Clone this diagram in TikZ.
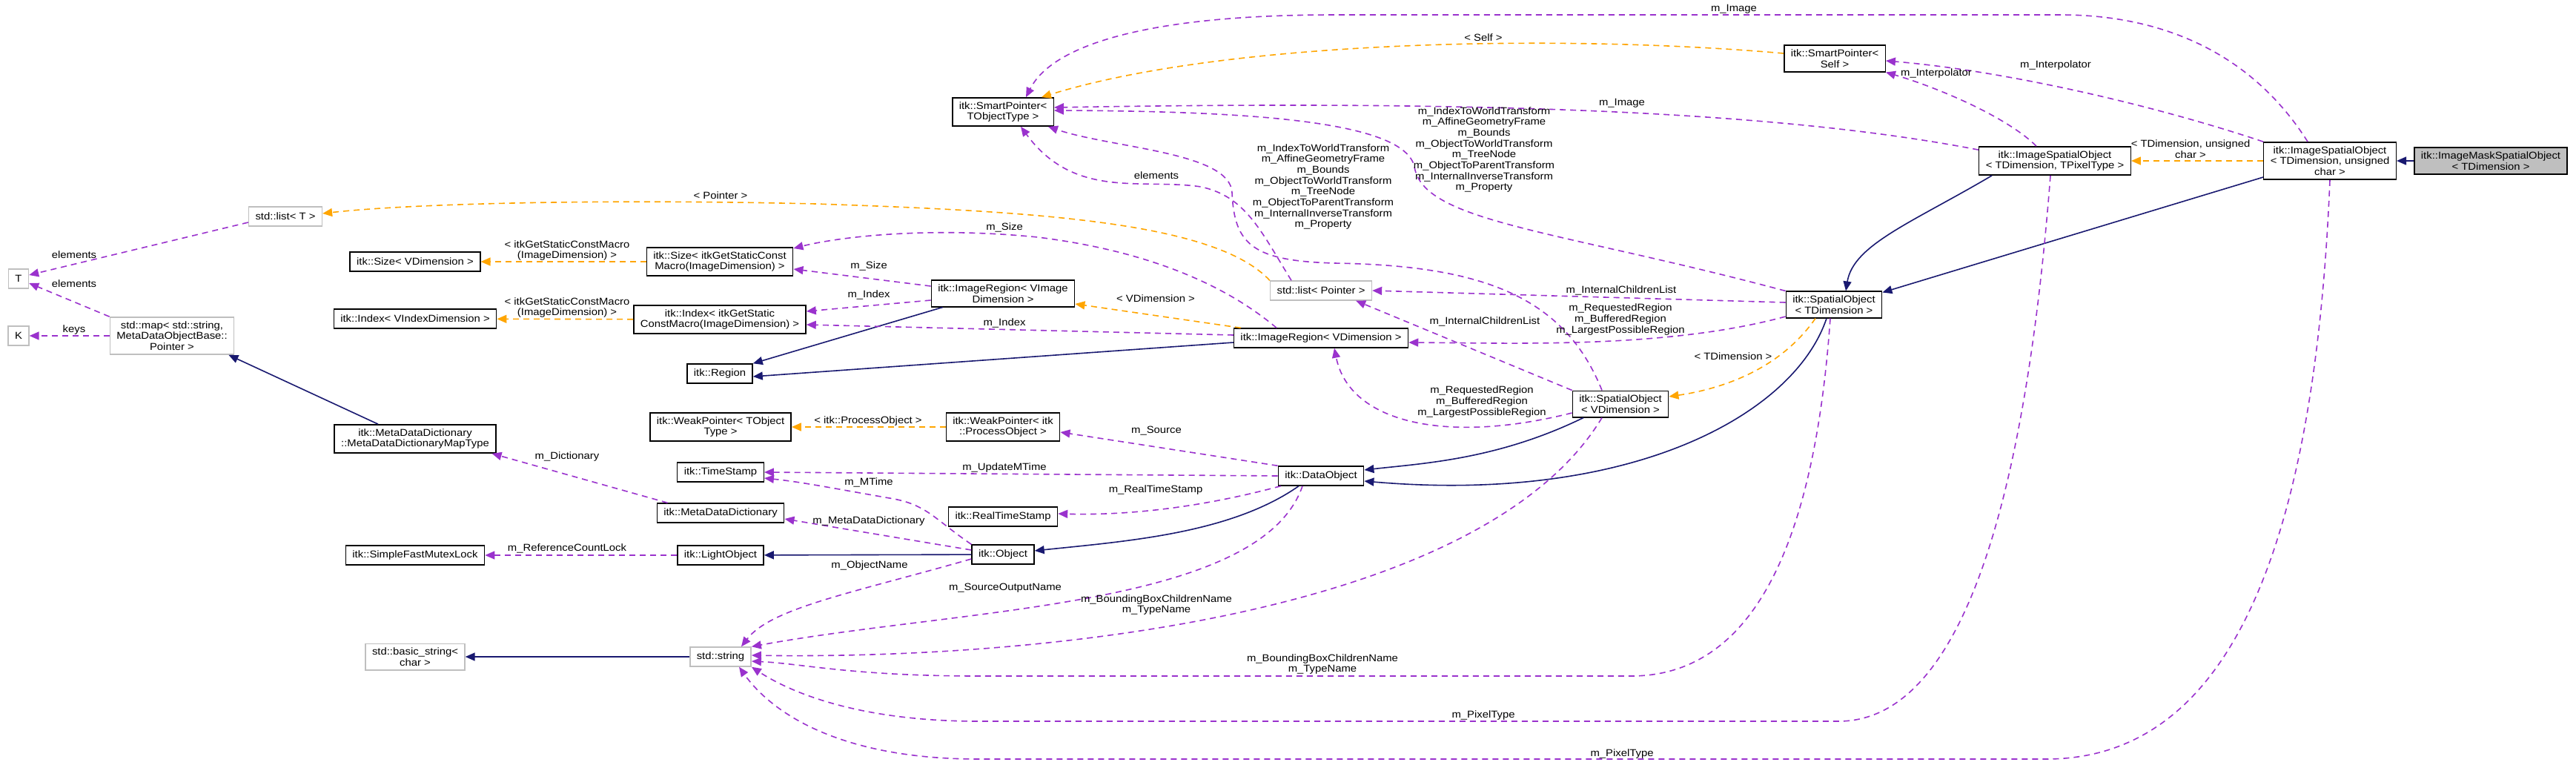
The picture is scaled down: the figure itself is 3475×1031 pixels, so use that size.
\documentclass[tikz,border=0pt]{standalone}
\usepackage{fontspec}
\setmainfont{Liberation Sans}[FakeStretch=1.1]
\usetikzlibrary{arrows.meta}
\definecolor{edgeblue}{HTML}{191970}
\definecolor{edgepurple}{HTML}{9A32CD}
\definecolor{edgeorange}{HTML}{FFA500}
\definecolor{boxgray}{HTML}{BFBFBF}
\begin{document}
\begin{tikzpicture}[x=1pt,y=-1pt,
  cls/.style={draw=black,line width=1.4pt,fill=white,align=center,inner xsep=9pt,inner ysep=5.5pt,minimum height=26pt,font=\fontsize{13.5}{14.7}\selectfont},
  ext/.style={cls,draw=boxgray},
  cur/.style={cls,fill=boxgray},
  lbl/.style={align=center,inner sep=0pt,font=\fontsize{13.5}{14.7}\selectfont},
  inh/.style={draw=edgeblue,line width=1.6pt,-{Triangle[length=13pt,width=11pt]}},
  use/.style={draw=edgepurple,line width=1.6pt,dash pattern=on 8pt off 6pt,-{Triangle[length=13pt,width=11pt]}},
  tpl/.style={use,draw=edgeorange}]

\useasboundingbox (0,0) rectangle (3475,1031);

% right part
\node[cur] (mask) at (3360,217) {itk::ImageMaskSpatialObject\\< TDimension >};
\node[cls] (isoUC) at (3143,217) {itk::ImageSpatialObject\\< TDimension, unsigned\\char >};
\node[cls] (isoT) at (2772,217) {itk::ImageSpatialObject\\< TDimension, TPixelType >};
\node[cls] (spSelf) at (2475,79) {itk::SmartPointer<\\Self >};
\node[cls] (soT) at (2474,411) {itk::SpatialObject\\< TDimension >};
\node[cls] (soV) at (2186,545) {itk::SpatialObject\\< VDimension >};

% middle part
\node[cls] (spT) at (1353,151) {itk::SmartPointer<\\TObjectType >};
\node[ext] (listP) at (1782,392) {std::list< Pointer >};
\node[cls] (irV) at (1782,456) {itk::ImageRegion< VDimension >};
\node[cls] (dataObj) at (1782,642) {itk::DataObject};
\node[cls] (irVI) at (1353,396) {itk::ImageRegion< VImage\\Dimension >};
\node[cls] (wpP) at (1353,576) {itk::WeakPointer< itk\\::ProcessObject >};
\node[cls] (rts) at (1353,697) {itk::RealTimeStamp};
\node[cls] (obj) at (1353,748) {itk::Object};

\node[cls] (sizeM) at (971,353) {itk::Size< itkGetStaticConst\\Macro(ImageDimension) >};
\node[cls] (indexM) at (971,431) {itk::Index< itkGetStatic\\ConstMacro(ImageDimension) >};
\node[cls] (region) at (971,504) {itk::Region};
\node[cls] (wpT) at (972,576) {itk::WeakPointer< TObject\\Type >};
\node[cls] (timeStamp) at (972,637) {itk::TimeStamp};
\node[cls] (mdd) at (972,692) {itk::MetaDataDictionary};
\node[cls] (light) at (972,749) {itk::LightObject};
\node[ext] (str) at (972,886) {std::string};

% left part
\node[cls] (sizeV) at (560,353) {itk::Size< VDimension >};
\node[cls] (indexV) at (560,430) {itk::Index< VIndexDimension >};
\node[cls] (mddMap) at (560,592) {itk::MetaDataDictionary\\::MetaDataDictionaryMapType};
\node[cls] (mutex) at (560,749) {itk::SimpleFastMutexLock};
\node[ext] (bstr) at (560,886) {std::basic\_string<\\char >};
\node[ext] (listT) at (385,292) {std::list< T >};
\node[ext] (map) at (232,453) {std::map< std::string,\\MetaDataObjectBase::\\Pointer >};
\node[ext] (T) at (25,376) {T};
\node[ext] (K) at (25,453) {K};

% inheritance
\draw[inh] (mask) -- (isoUC);
\draw[inh] ([yshift=-22pt]isoUC.west) -- ([yshift=-2pt]soT.north east);
\draw[inh] ([xshift=18pt]isoT.south west) .. controls (2580,300) and (2500,330) .. ([xshift=16pt]soT.north);
\draw[inh] ([xshift=-10pt]soT.south) .. controls (2420,560) and (2200,680) .. ([yshift=-7pt]dataObj.east);
\draw[inh] ([xshift=-50pt]soV.south) .. controls (2020,620) and (1920,625) .. ([yshift=8pt]dataObj.east);
\draw[inh] ([xshift=-30pt]dataObj.south) .. controls (1660,720) and (1520,730) .. ([yshift=5pt]obj.east);
\draw[inh] (obj) -- (light);
\draw[inh] ([yshift=-6pt]irV.west) -- ([yshift=-4pt]region.east);
\draw[inh] ([xshift=16pt]irVI.south west) -- (region.north east);
\draw[inh] ([xshift=-50pt]mddMap.north) -- ([xshift=-8pt]map.south east);
\draw[inh] (str) -- (bstr);

% template instances
\draw[tpl] (isoUC) -- (isoT);
\node[lbl] (lUChar) at (2955,201) {< TDimension, unsigned\\char >};
\draw[tpl] ([yshift=7pt]spSelf.west) .. controls (2100,45) and (1650,55) .. ([xshift=-17pt]spT.north east);
\node[lbl] (lSelf) at (2001,51) {< Self >};
\draw[tpl] (listP.north west) .. controls (1640,300) and (1400,285) .. (1100,275) .. controls (800,268) and (550,275) .. ([yshift=4pt]listT.east);
\node[lbl] (lPointer) at (972,264) {< Pointer >};
\draw[tpl] (sizeM) -- (sizeV);
\node[lbl] (lSizeM) at (765,338) {< itkGetStaticConstMacro\\(ImageDimension) >};
\draw[tpl] (indexM) -- (indexV);
\node[lbl] (lIndexM) at (765,415) {< itkGetStaticConstMacro\\(ImageDimension) >};
\draw[tpl] ([xshift=10pt]irV.north west) -- ([yshift=-14pt]irVI.east);
\node[lbl] (lVDim) at (1559,403) {< VDimension >};
\draw[tpl] ([xshift=-25pt]soT.south) .. controls (2400,500) and (2320,525) .. ([yshift=10pt]soV.east);
\node[lbl] (lTDim) at (2338,481) {< TDimension >};
\draw[tpl] (wpP) -- (wpT);
\node[lbl] (lProc) at (1171,568) {< itk::ProcessObject >};

% members, top
\draw[use] ([xshift=-30pt]isoUC.north) .. controls (3030,60) and (2900,20) .. (2780,20) -- (1800,20) .. controls (1550,20) and (1420,60) .. ([xshift=31pt]spT.north);
\node[lbl] (lImageTop) at (2339,12) {m\_Image};
\draw[use] (isoUC.north west) .. controls (2900,140) and (2700,95) .. ([yshift=-3pt]spSelf.east);
\node[lbl] (lInterpA) at (2773,88) {m\_Interpolator};
\draw[use] ([xshift=-25pt]isoT.north) .. controls (2710,160) and (2620,120) .. (spSelf.south east);
\node[lbl] (lInterpB) at (2612,99) {m\_Interpolator};
\draw[use] ([yshift=-5pt]isoT.north west) .. controls (2400,150) and (2000,135) .. ([yshift=6pt]spT.east);
\node[lbl] (lImage) at (2188,139) {m\_Image};
\draw[use] (soT.north west) .. controls (2100,310) and (1920,300) .. (1908,225) .. controls (1895,165) and (1700,150) .. ([yshift=2pt]spT.east);
\node[lbl] (lTransB) at (2002,202) {m\_IndexToWorldTransform\\m\_AffineGeometryFrame\\m\_Bounds\\m\_ObjectToWorldTransform\\m\_TreeNode\\m\_ObjectToParentTransform\\m\_InternalInverseTransform\\m\_Property};
\draw[use] ([xshift=-25pt]soV.north) .. controls (2110,400) and (2000,358) .. (1800,355) .. controls (1690,352) and (1665,330) .. (1662,260) .. controls (1660,205) and (1500,200) .. ([xshift=-8pt]spT.south east);
\node[lbl] (lTransA) at (1785,252) {m\_IndexToWorldTransform\\m\_AffineGeometryFrame\\m\_Bounds\\m\_ObjectToWorldTransform\\m\_TreeNode\\m\_ObjectToParentTransform\\m\_InternalInverseTransform\\m\_Property};
\draw[use] ([xshift=-40pt]listP.north) .. controls (1700,310) and (1680,265) .. (1620,252) .. controls (1540,240) and (1450,270) .. ([xshift=24pt]spT.south);
\node[lbl] (lElemP) at (1560,237) {elements};

% members, regions
\draw[use] ([yshift=3pt]soT.west) -- (listP.east);
\node[lbl] (lChildA) at (2187,392) {m\_InternalChildrenList};
\draw[use] (soV.north west) -- ([xshift=-22pt]listP.south east);
\node[lbl] (lChildB) at (2003,434) {m\_InternalChildrenList};
\draw[use] ([yshift=-16pt]soT.west) .. controls (2250,470) and (2050,463) .. ([yshift=-6pt]irV.east);
\node[lbl] (lRegA) at (2186,431) {m\_RequestedRegion\\m\_BufferedRegion\\m\_LargestPossibleRegion};
\draw[use] ([yshift=-12pt]soV.west) .. controls (1950,600) and (1820,570) .. ([xshift=18pt]irV.south);
\node[lbl] (lRegB) at (1999,542) {m\_RequestedRegion\\m\_BufferedRegion\\m\_LargestPossibleRegion};
\draw[use] ([xshift=-60pt]irV.north) .. controls (1660,390) and (1560,340) .. (1400,320) .. controls (1250,305) and (1130,320) .. ([yshift=18pt]sizeM.east);
\node[lbl] (lSizeA) at (1355,307) {m\_Size};
\draw[use] ([yshift=10pt]irVI.west) -- ([yshift=-10pt]sizeM.east);
\node[lbl] (lSizeB) at (1172,359) {m\_Size};
\draw[use] ([yshift=-9pt]irVI.west) -- ([yshift=11pt]indexM.east);
\node[lbl] (lIndexA) at (1172,398) {m\_Index};
\draw[use] ([yshift=4pt]irV.west) -- ([yshift=-7pt]indexM.east);
\node[lbl] (lIndexB) at (1355,436) {m\_Index};

% members, objects
\draw[use] (dataObj.north west) -- ([yshift=-7pt]wpP.east);
\node[lbl] (lSource) at (1560,581) {m\_Source};
\draw[use] (dataObj.west) -- (timeStamp.east);
\node[lbl] (lUpdate) at (1355,631) {m\_UpdateMTime};
\draw[use] (obj.north west) .. controls (1260,700) and (1250,680) .. (1200,672) .. controls (1120,658) and (1080,650) .. ([yshift=-8pt]timeStamp.east);
\node[lbl] (lMTime) at (1172,651) {m\_MTime};
\draw[use] ([xshift=4pt]dataObj.south west) .. controls (1600,690) and (1500,695) .. ([yshift=4pt]rts.east);
\node[lbl] (lRealTime) at (1559,661) {m\_RealTimeStamp};
\draw[use] ([yshift=6pt]obj.west) -- ([yshift=-8pt]mdd.east);
\node[lbl] (lMeta) at (1172,703) {m\_MetaDataDictionary};
\draw[use] ([xshift=15pt]mdd.north west) -- ([xshift=-6pt]mddMap.south east);
\node[lbl] (lDict) at (765,616) {m\_Dictionary};
\draw[use] (light) -- (mutex);
\node[lbl] (lLock) at (765,740) {m\_ReferenceCountLock};

% members, strings
\draw[use] ([yshift=-6pt]obj.west) .. controls (1150,800) and (1040,820) .. ([xshift=28pt]str.north);
\node[lbl] (lObjName) at (1173,763) {m\_ObjectName};
\draw[use] ([xshift=-25pt]dataObj.south) .. controls (1700,820) and (1300,820) .. (str.north east);
\node[lbl] (lOutName) at (1356,793) {m\_SourceOutputName};
\draw[use] ([xshift=-25pt]soV.south) .. controls (2000,830) and (1400,890) .. ([yshift=2pt]str.east);
\node[lbl] (lBoxA) at (1560,816) {m\_BoundingBoxChildrenName\\m\_TypeName};
\draw[use] ([xshift=-5pt]soT.south) .. controls (2450,700) and (2380,912) .. (2200,912) -- (1320,912) .. controls (1150,912) and (1080,895) .. ([yshift=-6pt]str.east);
\node[lbl] (lBoxB) at (1784,896) {m\_BoundingBoxChildrenName\\m\_TypeName};
\draw[use] ([xshift=-6pt]isoT.south) .. controls (2730,700) and (2640,973) .. (2480,973) -- (1320,973) .. controls (1150,973) and (1060,930) .. (str.south east);
\node[lbl] (lPixA) at (2001,965) {m\_PixelType};
\draw[use] (isoUC.south) .. controls (3120,800) and (2980,1024) .. (2760,1024) -- (1320,1024) .. controls (1130,1024) and (1040,960) .. ([xshift=25pt]str.south);
\node[lbl] (lPixB) at (2188,1017) {m\_PixelType};

% left nodes
\draw[use] ([yshift=-8pt]listT.west) -- ([yshift=5pt]T.east);
\node[lbl] (lElemT) at (100,344) {elements};
\draw[use] (map.north west) -- ([yshift=-6pt]T.east);
\node[lbl] (lElemM) at (100,383) {elements};
\draw[use] (map.west) -- (K.east);
\node[lbl] (lKeys) at (100,445) {keys};

\end{tikzpicture}
\end{document}
